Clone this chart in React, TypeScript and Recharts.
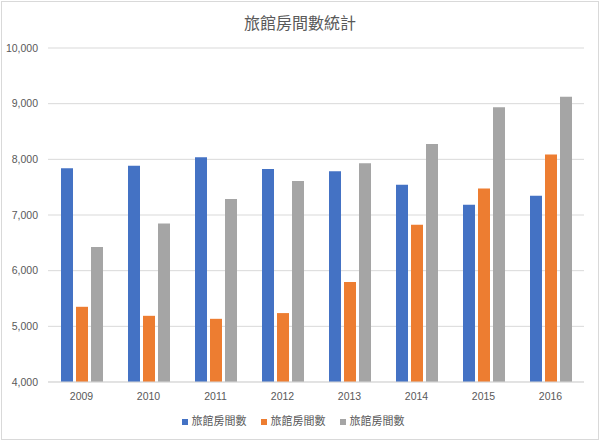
import { Bar, BarChart, CartesianGrid, Legend, XAxis, YAxis } from "recharts";

const years = ["2009", "2010", "2011", "2012", "2013", "2014", "2015", "2016"];
const seriesA = [7838, 7886, 8036, 7827, 7784, 7544, 7184, 7346];
const seriesB = [5351, 5189, 5135, 5238, 5796, 6823, 7478, 8085];
const seriesC = [6427, 6847, 7286, 7611, 7928, 8277, 8937, 9124];
const yTicks = [4000, 5000, 6000, 7000, 8000, 9000, 10000];
const seriesName = "旅館房間數";
const title = "旅館房間數統計";

const data = years.map((year, i) => ({
  year,
  a: seriesA[i],
  b: seriesB[i],
  c: seriesC[i],
}));

const textColor = "#595959";
const font = "'Liberation Sans', 'Noto Sans CJK TC', sans-serif";

export default function App() {
  return (
    <div
      style={{
        position: "absolute",
        left: 0,
        top: 0,
        width: 600,
        height: 440,
        background: "#fff",
        fontFamily: font,
      }}
    >
      <div
        style={{
          position: "absolute",
          left: 1,
          top: 1,
          width: 596,
          height: 437,
          border: "1px solid #d9d9d9",
          pointerEvents: "none",
        }}
      />
      <div
        style={{
          position: "absolute",
          top: 10,
          left: 0,
          width: 600,
          textAlign: "center",
          fontSize: 16,
          color: textColor,
          fontFamily: "'Noto Sans CJK TC', sans-serif",
        }}
      >
        {title}
      </div>
      <BarChart
        width={600}
        height={440}
        data={data}
        margin={{ top: 48, right: 16, left: 0, bottom: 12 }}
        barGap={3}
      >
        <CartesianGrid vertical={false} stroke="#d9d9d9" />
        <XAxis
          dataKey="year"
          tickLine={false}
          axisLine={{ stroke: "#d9d9d9" }}
          tick={{ fill: textColor, fontSize: 10.5, fontFamily: font }}
          tickMargin={5}
          height={30}
        />
        <YAxis
          domain={[4000, 10000]}
          ticks={yTicks}
          width={48}
          axisLine={false}
          tickLine={false}
          tickSize={0}
          tickMargin={10}
          tick={{ fill: textColor, fontSize: 10.5, fontFamily: font }}
          tickFormatter={(v: number) => v.toLocaleString("en-US")}
        />
        <Legend
          iconType="square"
          iconSize={6}
          wrapperStyle={{ fontSize: 11, fontFamily: "'Noto Sans CJK TC', sans-serif", paddingLeft: 8 }}
          formatter={(value: string) => (
            <span style={{ color: textColor, marginRight: 4 }}>{value}</span>
          )}
        />
        <Bar dataKey="a" name={seriesName} fill="#4472c4" barSize={12} isAnimationActive={false} />
        <Bar dataKey="b" name={seriesName} fill="#ed7d31" barSize={12} isAnimationActive={false} />
        <Bar dataKey="c" name={seriesName} fill="#a5a5a5" barSize={12} isAnimationActive={false} />
      </BarChart>
    </div>
  );
}
